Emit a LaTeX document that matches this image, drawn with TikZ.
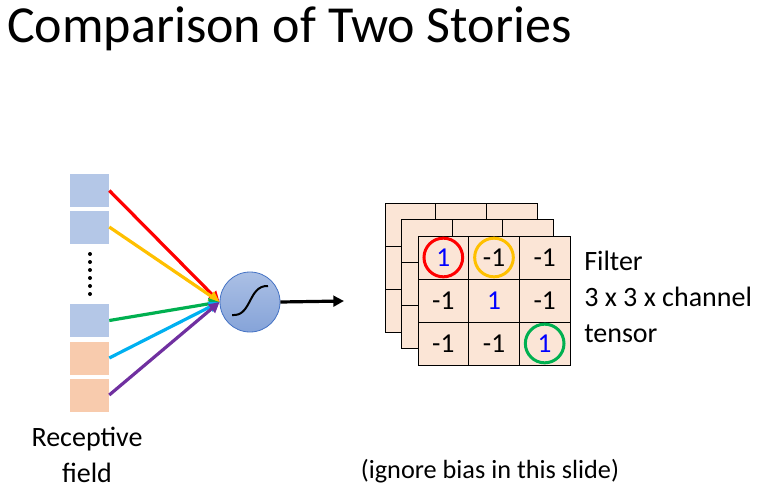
\documentclass[tikz,border=0pt]{standalone}
\usepackage{fontspec}
\setmainfont{Carlito}
\usetikzlibrary{arrows.meta}
\definecolor{inblue}{HTML}{B4C7E7}
\definecolor{inorange}{HTML}{F8CBAD}
\definecolor{cellfill}{HTML}{FBE5D6}
\definecolor{nred}{HTML}{FF0000}
\definecolor{nyellow}{HTML}{FFC000}
\definecolor{ngreen}{HTML}{00B050}
\definecolor{ncyan}{HTML}{00B0F0}
\definecolor{npurple}{HTML}{7030A0}
\definecolor{nborder}{HTML}{4472C4}
\tikzset{
  inbox/.style={rectangle,minimum width=29.25pt,minimum height=24.75pt,inner sep=0pt},
  cell/.style={rectangle,draw=black,line width=0.6pt,fill=cellfill,minimum width=38pt,minimum height=32.25pt,inner sep=0pt,font=\fontsize{20.5}{24}\selectfont},
  ring/.style={circle,draw=#1,line width=2.25pt,minimum size=29pt,inner sep=0pt},
  wire/.style={line width=2.4pt,-{Triangle[length=8pt,width=8pt]}},
  txt/.style={font=\fontsize{21}{27}\selectfont},
}
\begin{document}
\begin{tikzpicture}[x=0.75pt,y=-0.75pt]
  \useasboundingbox (0,0) rectangle (768,500);
  % title
  \node[anchor=base west,inner sep=0pt,font=\fontsize{39}{42}\selectfont] (title) at (7,42) {Comparison of Two Stories};
  % receptive field
  \node[inbox,fill=inblue] (x1) at (89.5,190.5) {};
  \node[inbox,fill=inblue] (x2) at (89.5,227) {};
  \node[inbox,fill=inblue] (x3) at (89.5,320.5) {};
  \node[inbox,fill=inorange] (x4) at (89.5,358) {};
  \node[inbox,fill=inorange] (x5) at (89.5,395) {};
  \foreach \k in {0,...,5}
    \fill (90,254+8*\k) circle (1.5pt);
  \node[txt,align=center] (rflabel) at (87,455) {Receptive\\field};
  % neuron
  \node[circle,draw=nborder,line width=0.6pt,top color=nborder!45,bottom color=nborder!65,minimum size=45pt,inner sep=0pt] (neuron) at (250,302) {};
  \draw[line width=1.5pt] ([shift={(-18,13)}]neuron.center) .. controls ([shift={(2,15)}]neuron.center) and ([shift={(-2,-17)}]neuron.center) .. ([shift={(18,-16)}]neuron.center);
  \coordinate (out) at (344,301);
  \draw[wire,nred] (x1.east) -- (neuron.west);
  \draw[wire,nyellow] (x2.east) -- (neuron.west);
  \draw[wire,ngreen] (x3.east) -- (neuron.west);
  \draw[wire,ncyan] (x4.east) -- (neuron.west);
  \draw[wire,npurple] (x5.east) -- (neuron.west);
  \draw[wire,black] (neuron.east) -- (out);
  % filter: two back layers, then front layer
  \foreach \ox/\oy in {385/203,401.5/219.5}
    \foreach \r in {0,1,2}
      \foreach \c in {0,1,2}
        \node[cell] at (\ox+25.33+50.67*\c,\oy+21.5+43*\r) {};
  \foreach \r/\c/\v in {1/1/{\color{blue}1},1/2/-1,1/3/-1,2/1/-1,2/2/{\color{blue}1},2/3/-1,3/1/-1,3/2/-1,3/3/{\color{blue}1}}
    \node[cell] (c\r\c) at (418+25.33+50.67*\c-50.67,236+21.5+43*\r-43) {\v};
  \node[ring=nred] (r11) at (c11) {};
  \node[ring=nyellow] (r12) at (c12) {};
  \node[ring=ngreen] (r33) at (c33) {};
  \node[txt,align=left,anchor=north west,inner sep=0pt] (flabel) at (584,251) {Filter\\3 x 3 x channel\\tensor};
  \node[anchor=base,inner sep=0pt,font=\fontsize{19.7}{24}\selectfont] (note) at (490,478) {(ignore bias in this slide)};
\end{tikzpicture}
\end{document}
